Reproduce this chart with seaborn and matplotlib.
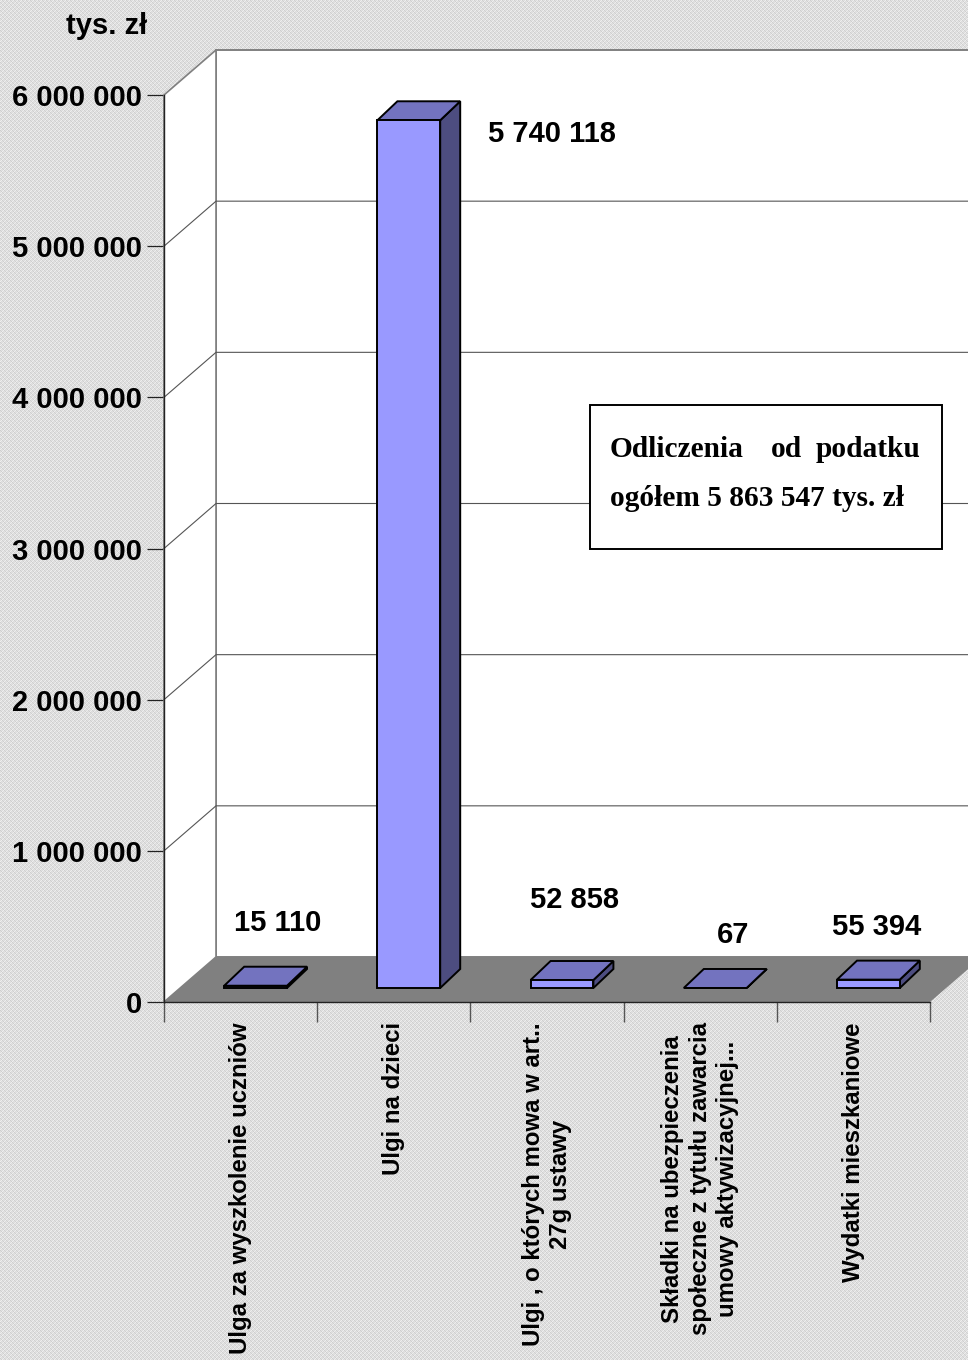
import numpy as np
import pandas as pd
import matplotlib
matplotlib.use("Agg")
import matplotlib.pyplot as plt
from matplotlib.patches import Polygon, Rectangle
from matplotlib.transforms import Affine2D, IdentityTransform
import seaborn as sns

categories = [
    "Ulga za wyszkolenie uczniów",
    "Ulgi na dzieci",
    "Ulgi , o których mowa w art..\n27g ustawy",
    "Składki na ubezpieczenia\nspołeczne z tytułu zawarcia\numowy aktywizacyjnej...",
    "Wydatki mieszkaniowe",
]
values = [15110, 5740118, 52858, 67, 55394]
value_labels = ["15 110", "5 740 118", "52 858", "67", "55 394"]
y_ticks = [0, 1000000, 2000000, 3000000, 4000000, 5000000, 6000000]
y_tick_labels = ["0", "1 000 000", "2 000 000", "3 000 000", "4 000 000", "5 000 000", "6 000 000"]

W, H = 968, 1360
FRONT, TOP, SIDE = "#9999FF", "#7373BF", "#4D4D80"
GRAY = "#808080"
SANS = "Liberation Sans"
SERIF = "Liberation Serif"
EDGE_LW = 1.4

sns.set_theme(style="white")
plt.rcParams["font.family"] = [SANS, "DejaVu Sans"]

fig = plt.figure(figsize=(W / 100, H / 100), dpi=100)
# dithered grey page background
yy, xx = np.indices((H, W))
page = np.where((xx + yy) % 2 == 0, 0.80, 0.94) * 0.5 + np.where((xx // 2 + yy // 2) % 2 == 0, 0.92, 0.82) * 0.5
fig.figimage(page, cmap="gray", vmin=0, vmax=1, zorder=-5)

ax = fig.add_axes([164 / W, 1 - 1002 / H, (930 - 164) / W, (1002 - 95) / H])
ax.patch.set_alpha(0)

df = pd.DataFrame({"cat": categories, "val": values})
sns.barplot(data=df, x="cat", y="val", color=FRONT, saturation=1, width=0.41, ax=ax)
ax.set_xlim(-0.5, 4.5)
ax.set_ylim(0, 6000000)
ax.set_xlabel("")
ax.set_ylabel("")

bars = list(ax.patches)
WALL_DX, WALL_DY = 52, 45
BAR_DX, BAR_DY = 15, 14
DEPTH_X, DEPTH_Y = 20, 19


def shift(dx, dy):
    return ax.transData + Affine2D().translate(dx, dy)


def px(x, y):
    return tuple(ax.transData.transform((x, y)))


def poly(points, **kw):
    p = Polygon(points, closed=True, clip_on=False, joinstyle="miter", **kw)
    p.set_transform(IdentityTransform())
    ax.add_artist(p)
    return p


x0, x1 = ax.get_xlim()
ymax = ax.get_ylim()[1]
lx, by = px(x0, 0)
rx, ty = px(x1, ymax)

# back wall, left wall, floor
poly([(lx + WALL_DX, by + WALL_DY), (rx + WALL_DX, by + WALL_DY), (rx + WALL_DX, ty + WALL_DY), (lx + WALL_DX, ty + WALL_DY)],
     facecolor="white", edgecolor=GRAY, linewidth=1.4, zorder=0.5)
poly([(lx, by), (lx + WALL_DX, by + WALL_DY), (lx + WALL_DX, ty + WALL_DY), (lx, ty)],
     facecolor="white", edgecolor=GRAY, linewidth=1.2, zorder=0.6)
# gridlines on both walls
for t in y_ticks[1:-1]:
    _, yp = px(x0, t)
    ax.plot([lx, lx + WALL_DX, rx + WALL_DX], [yp, yp + WALL_DY, yp + WALL_DY], color="#555555", lw=0.8,
            transform=IdentityTransform(), clip_on=False, zorder=0.7)
poly([(lx, by), (lx + WALL_DX, by + WALL_DY), (rx + WALL_DX, by + WALL_DY), (rx, by)],
     facecolor=GRAY, edgecolor="none", zorder=0.8)

# bars: front faces come from seaborn, side and top faces follow them
for b in bars:
    b.set_transform(shift(BAR_DX, BAR_DY))
    b.set_edgecolor("black")
    b.set_linewidth(EDGE_LW)
    b.set_clip_on(False)
    b.set_joinstyle("miter")
    b.set_zorder(3)
    xa, xb = b.get_x(), b.get_x() + b.get_width()
    top = b.get_height()
    (ax_, ay_) = px(xa, top)
    (bx_, by_) = px(xb, top)
    (_, base_y) = px(xb, 0)
    ax_, bx_ = ax_ + BAR_DX, bx_ + BAR_DX
    ay_, by_ = ay_ + BAR_DY, by_ + BAR_DY
    base_y += BAR_DY
    poly([(bx_, base_y), (bx_ + DEPTH_X, base_y + DEPTH_Y), (bx_ + DEPTH_X, by_ + DEPTH_Y), (bx_, by_)],
         facecolor=SIDE, edgecolor="black", linewidth=EDGE_LW, zorder=2.8)
    poly([(ax_, ay_), (bx_, by_), (bx_ + DEPTH_X, by_ + DEPTH_Y), (ax_ + DEPTH_X, ay_ + DEPTH_Y)],
         facecolor=TOP, edgecolor="black", linewidth=EDGE_LW, zorder=2.9)

# axes
sns.despine(ax=ax, top=True, right=True)
for s in ("left", "bottom"):
    ax.spines[s].set_color("#222222")
    ax.spines[s].set_linewidth(1.0)
    ax.spines[s].set_zorder(5)
ax.set_yticks(y_ticks)
ax.set_yticklabels(y_tick_labels, fontsize=21, fontweight="bold", color="black")
ax.tick_params(axis="y", length=12.5, width=0.9, color="#222222", pad=3.5, left=True)
ax.set_xticks([-0.5, 0.5, 1.5, 2.5, 3.5, 4.5])
ax.set_xticklabels([])
ax.tick_params(axis="x", length=14.5, width=1.0, color="#555555", bottom=True)
for i, c in enumerate(categories):
    ax.annotate(c, xy=(i, 0), xycoords=("data", "axes fraction"), xytext=(0, -14.5), textcoords="offset points",
                rotation=90, ha="center", va="top", multialignment="center",
                fontsize=17.3, fontweight="bold", color="black", linespacing=1.25, annotation_clip=False)


def ftext(x, y, s, **kw):
    fig.text(x / W, 1 - y / H, s, zorder=10, **kw)


# value labels
label_pos = [(278, 923), (552, 134), (575, 900), (733, 935), (877, 927)]
for (x, y), s in zip(label_pos, value_labels):
    ftext(x, y, s, ha="center", va="center", fontsize=21, fontweight="bold", color="black")

ftext(107, 26, "tys. zł", ha="center", va="center", fontsize=21, fontweight="bold", color="black")

# note box
fig.add_artist(Rectangle((590 / W, 1 - 549 / H), (942 - 590) / W, (549 - 405) / H, transform=fig.transFigure,
                         facecolor="white", edgecolor="black", linewidth=1.4, zorder=9))
note = dict(fontsize=21.2, fontweight="bold", family=SERIF, color="black", va="center")
ftext(610, 450, "Odliczenia", ha="left", **note)
ftext(786, 450, "od", ha="center", **note)
ftext(921, 450, "podatku", ha="right", **note)
ftext(610, 498, "ogółem 5 863 547 tys. zł", ha="left", **note)

fig.savefig("out.png", dpi=100)
